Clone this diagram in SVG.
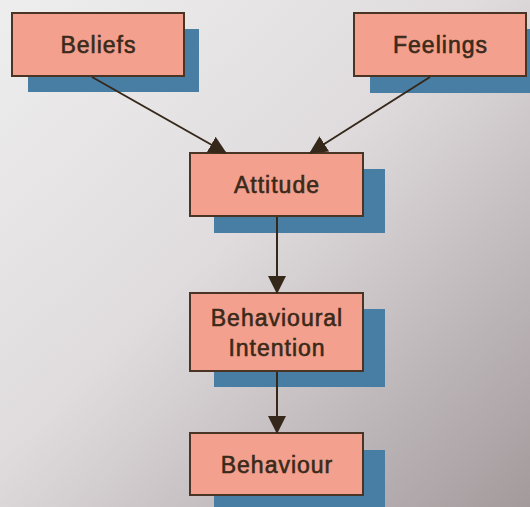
<svg xmlns="http://www.w3.org/2000/svg" width="530" height="507" viewBox="0 0 530 507">
<defs>
<linearGradient id="bg" x1="0" y1="0" x2="1" y2="1">
<stop offset="0" stop-color="#eeeeee"/>
<stop offset="0.45" stop-color="#e0dcde"/>
<stop offset="1" stop-color="#a39a9c"/>
</linearGradient>
<marker id="ah" viewBox="0 0 18 18" refX="17" refY="9" markerWidth="18" markerHeight="18" markerUnits="userSpaceOnUse" orient="auto">
<path d="M0,0 L18,9 L0,18 Z" fill="#35281a"/>
</marker>
<style>
.sh{fill:#487ea4}
.bx{fill:#f4a08e;stroke:#4a3424;stroke-width:2}
.tx{font-family:"Liberation Sans",Arial,sans-serif;font-size:23px;letter-spacing:1px;fill:#3a2a1a;stroke:#3a2a1a;stroke-width:0.6;text-anchor:middle}
.cn{stroke:#35281a;stroke-width:2;fill:none;marker-end:url(#ah)}
</style>
</defs>
<rect width="530" height="507" fill="url(#bg)"/>
<g id="beliefs">
<rect class="sh" x="28" y="29" width="171" height="63"/>
<rect class="bx" x="12" y="13" width="172" height="63"/>
<text class="tx" x="98.500" y="53">Beliefs</text>
</g>
<g id="feelings">
<rect class="sh" x="370" y="29" width="171" height="64"/>
<rect class="bx" x="354" y="13" width="172" height="63"/>
<text class="tx" x="440.500" y="53">Feelings</text>
</g>
<g id="attitude">
<rect class="sh" x="214" y="169" width="171" height="64"/>
<rect class="bx" x="190" y="153" width="173" height="63"/>
<text class="tx" x="277" y="193">Attitude</text>
</g>
<g id="intention">
<rect class="sh" x="214" y="309" width="171" height="78"/>
<rect class="bx" x="190" y="293" width="173" height="78"/>
<text class="tx" x="277" y="326">Behavioural</text>
<text class="tx" x="277" y="356">Intention</text>
</g>
<g id="behaviour">
<rect class="sh" x="214" y="450" width="171" height="64"/>
<rect class="bx" x="190" y="433" width="173" height="62"/>
<text class="tx" x="277" y="473">Behaviour</text>
</g>
<g id="connectors">
<line class="cn" x1="92" y1="77" x2="226" y2="153"/>
<line class="cn" x1="430" y1="77" x2="310" y2="153"/>
<line class="cn" x1="277" y1="217" x2="277" y2="293"/>
<line class="cn" x1="277" y1="372" x2="277" y2="433"/>
</g>
</svg>
